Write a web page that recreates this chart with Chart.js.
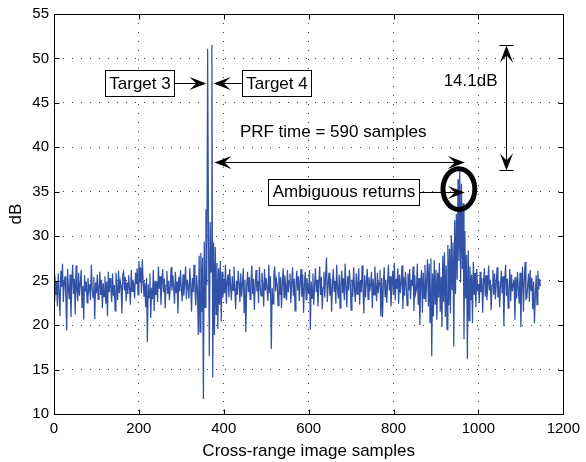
<!DOCTYPE html>
<html>
<head>
<meta charset="utf-8">
<script src="https://cdn.jsdelivr.net/npm/chart.js@4/dist/chart.umd.min.js"></script>
<style>
  html, body { margin: 0; padding: 0; background: #fff; }
  canvas { display: block; }
</style>
</head>
<body>
<canvas id="c" width="586" height="462"></canvas>
<script>
// Cross-range profile of the image (dB), sampled every 2 image samples.
const SAMPLE_STEP = 2;

const xTicks = [0, 200, 400, 600, 800, 1000, 1200];
const yTicks = [10, 15, 20, 25, 30, 35, 40, 45, 50, 55];

// Clutter floor before the targets (samples 0–338)
const noiseLeadStart = 0;
const noiseLead = [
  22.8, 25.6, 23.4, 24.9, 22.1, 25.8, 23.7, 21.0, 26.1, 24.3, 26.9, 22.6, 24.8, 25.5, 23.0, 19.4, 26.3, 24.1, 22.9, 25.7,
  20.9, 24.6, 26.8, 23.5, 25.2, 21.2, 26.7, 24.0, 22.7, 25.9, 23.3, 24.7, 26.2, 22.0, 24.4, 20.6, 25.6, 23.8, 24.9, 22.5,
  25.3, 23.9, 24.6, 22.8, 26.8, 24.2, 23.1, 25.4, 20.7, 24.8, 23.6, 25.7, 22.9, 24.1, 26.0, 23.4, 25.1, 21.9, 24.7, 23.2,
  25.5, 22.4, 24.9, 21.0, 26.0, 23.7, 25.3, 24.0, 22.6, 25.8, 23.3, 24.5, 21.6, 25.9, 24.2, 22.8, 26.1, 23.6, 25.0, 24.4,
  21.3, 25.7, 26.0, 23.9, 25.4, 22.7, 24.8, 23.5, 25.6, 24.1, 22.3, 26.2, 23.8, 25.1, 24.5, 23.0, 25.9, 24.6, 26.4, 23.4,
  27.2, 24.8, 26.5, 23.6, 27.4, 25.0, 23.2, 24.7, 22.0, 25.3, 18.1, 24.6, 23.1, 25.8, 20.8, 24.2, 22.9, 26.2, 21.6, 25.0,
  23.4, 24.9, 22.6, 26.6, 24.1, 25.5, 22.3, 24.8, 26.3, 23.7, 25.2, 21.9, 24.5, 26.1, 23.5, 25.0, 22.8, 24.4, 26.5, 23.9,
  25.6, 24.2, 22.4, 26.0, 23.6, 24.9, 21.3, 25.4, 23.8, 26.2, 24.0, 22.7, 25.7, 23.3, 24.6, 26.6, 22.9, 25.1, 24.3, 23.0,
  26.4, 24.5, 21.5, 25.3, 23.7, 26.8, 24.0, 22.2, 25.6, 23.9
];

// Targets 3 and 4 (samples 340–398)
const targetZoneStart = 340;
const targetZone = [
  18.9, 27.8, 19.2, 28.1, 21.5, 27.6, 11.7, 29.4, 22.0, 33.0,
  24.5, 51.1, 30.2, 16.5, 31.6, 26.0, 51.5, 14.1, 29.3, 18.9,
  28.8, 21.2, 27.0, 19.6, 26.4, 22.3, 27.2, 20.4, 26.0, 23.1
];

// Clutter floor between the targets and their ambiguous returns (samples 400–878)
const noiseMidStart = 400;
const noiseMid = [
  25.2, 23.6, 26.8, 22.4, 24.9, 25.7, 23.1, 26.3, 24.4, 22.8, 25.5, 23.9, 26.6, 24.2, 21.8, 25.0, 23.4, 26.1, 24.7, 22.6,
  25.8, 23.2, 24.6, 26.4, 21.4, 25.1, 19.2, 24.3, 26.0, 23.7, 25.4, 22.9, 24.8, 26.7, 23.5, 25.2, 21.7, 24.5, 26.2, 23.8,
  25.0, 22.5, 26.5, 24.1, 23.3, 25.9, 24.6, 22.1, 26.3, 23.9, 25.3, 24.0, 22.7, 26.8, 23.6, 25.5, 17.3, 24.2, 22.4, 25.7,
  26.6, 23.8, 25.1, 24.5, 22.2, 26.0, 23.4, 25.4, 21.9, 24.8, 26.4, 23.1, 25.6, 24.3, 22.8, 26.2, 23.7, 24.9, 25.8, 22.5,
  24.7, 26.5, 23.3, 25.2, 21.6, 24.4, 26.1, 23.9, 25.5, 22.7, 24.9, 26.3, 23.2, 25.7, 21.4, 24.6, 26.0, 22.9, 25.3, 24.1,
  23.5, 26.2, 19.5, 24.9, 23.0, 25.8, 22.3, 24.5, 26.4, 23.7, 25.1, 22.1, 24.8, 26.6, 23.4, 25.4, 21.8, 24.2, 26.0, 23.1,
  25.6, 27.6, 22.6, 24.7, 25.9, 23.3, 25.2, 21.5, 24.4, 26.3, 23.8, 25.0, 22.4, 26.8, 24.1, 23.0, 25.7, 21.9, 24.6, 26.1,
  23.6, 25.3, 22.8, 26.9, 24.3, 22.0, 25.5, 23.9, 26.2, 24.7, 21.7, 25.1, 23.2, 26.5, 24.0, 22.6, 25.8, 23.5, 24.8, 26.4,
  22.3, 25.0, 23.7, 26.7, 24.2, 21.3, 25.6, 23.1, 24.9, 26.3, 22.9, 25.4, 23.8, 24.5, 26.0, 21.9, 25.2, 23.4, 26.6, 24.4,
  22.7, 25.9, 23.6, 24.8, 26.2, 21.0, 25.3, 20.9, 24.6, 26.5, 23.2, 25.1, 22.5, 24.7, 26.8, 23.9, 25.5, 22.1, 24.3, 26.1,
  23.4, 27.0, 22.8, 25.2, 24.1, 26.4, 22.4, 25.7, 23.6, 24.9, 26.7, 21.8, 25.4, 23.3, 26.0, 24.5, 22.2, 25.8, 23.9, 26.3,
  22.9, 25.1, 24.4, 26.6, 21.6, 25.6, 23.5, 24.0, 26.9, 22.3, 25.3, 20.0, 24.8, 26.2, 21.4, 25.9, 23.0, 26.8, 22.6, 25.0
];

// Ambiguous returns one PRF later (samples 880–998)
const ambiguousZoneStart = 880;
const ambiguousZone = [
  27.4, 22.1, 26.9, 20.3, 27.5, 16.5, 25.8, 21.0, 27.3, 22.4,
  26.2, 20.6, 25.9, 23.1, 27.0, 21.5, 25.4, 19.8, 27.8, 22.6,
  28.2, 20.9, 26.7, 19.5, 29.0, 22.2, 28.6, 21.3, 30.1, 24.0,
  29.3, 17.6, 31.8, 23.5, 32.5, 25.1, 36.4, 27.2, 37.4, 24.8,
  35.9, 26.3, 33.7, 18.4, 30.6, 23.0, 27.9, 16.2, 28.4, 20.5,
  26.6, 22.8, 25.7, 20.2, 27.1, 23.4, 25.9, 22.0, 26.3, 23.8
];

// Clutter floor after the ambiguous returns (samples 1000–1146)
const noiseTailStart = 1000;
const noiseTail = [
  24.6, 22.5, 26.0, 23.7, 25.3, 21.4, 24.8, 26.4, 23.2, 25.6, 22.8, 24.3, 26.7, 23.9, 25.1, 21.7, 24.5, 26.2, 23.4, 25.8,
  22.9, 24.7, 26.5, 23.1, 25.0, 22.0, 24.4, 26.1, 23.6, 25.5, 19.9, 24.9, 26.8, 23.3, 25.2, 21.9, 24.1, 26.3, 22.7, 25.7,
  23.8, 24.6, 25.0, 20.6, 25.4, 23.0, 26.0, 24.2, 22.4, 25.9, 19.8, 24.8, 26.6, 21.5, 25.1, 27.1, 22.9, 23.0, 24.5, 25.8,
  22.6, 26.2, 23.9, 25.3, 21.8, 24.9, 20.2, 23.4, 25.6, 22.3, 26.1, 24.0, 25.2, 24.4
];

const PRF_SAMPLES = 590;

// ---------------------------------------------------------------------------
const segments = [
  [noiseLeadStart, noiseLead],
  [targetZoneStart, targetZone],
  [noiseMidStart, noiseMid],
  [ambiguousZoneStart, ambiguousZone],
  [noiseTailStart, noiseTail]
];
const profile = [];
segments.forEach(([start, values]) => {
  values.forEach((v, i) => profile.push({ x: start + i * SAMPLE_STEP, y: v }));
});

const FONT = '"Liberation Sans", Arial, Helvetica, sans-serif';
const targetPeak = Math.max(...targetZone);
const ambiguousPeak = Math.max(...ambiguousZone);

// Annotation anchors, in data units (samples, dB)
const notes = {
  labels: [
    { text: 'Target 3', at: [202, 47.2], tip: [359, 47.2] },
    { text: 'Target 4', at: [524, 47.2], tip: [376, 47.2] },
    { text: 'Ambiguous returns', at: [681, 35.0], tip: [968, 35.0] }
  ],
  prfText: [438, 41.7],
  prfArrow: { from: 378, y: 38.3 },
  ring: { center: [954, 35.3], rx: 37.5, ry: 2.3 },
  gapArrowX: 1064,
  gapText: [1045, 47.4]
};

function arrowHead(ctx, tx, ty, dx, dy) {
  const L = 17, W = 6.5, N = 10;
  const px = -dy, py = dx;
  ctx.beginPath();
  ctx.moveTo(tx, ty);
  ctx.lineTo(tx - L * dx + W * px, ty - L * dy + W * py);
  ctx.lineTo(tx - N * dx, ty - N * dy);
  ctx.lineTo(tx - L * dx - W * px, ty - L * dy - W * py);
  ctx.closePath();
  ctx.fill();
}

function arrow(ctx, x1, y1, x2, y2, headStart, headEnd) {
  const len = Math.hypot(x2 - x1, y2 - y1);
  const dx = (x2 - x1) / len, dy = (y2 - y1) / len;
  ctx.beginPath();
  ctx.moveTo(x1 + (headStart ? dx * 9 : 0), y1 + (headStart ? dy * 9 : 0));
  ctx.lineTo(x2 - (headEnd ? dx * 9 : 0), y2 - (headEnd ? dy * 9 : 0));
  ctx.stroke();
  if (headEnd) arrowHead(ctx, x2, y2, dx, dy);
  if (headStart) arrowHead(ctx, x1, y1, -dx, -dy);
}

// Axes box with inward tick marks on all four sides
const framePlugin = {
  id: 'frame',
  afterDatasetsDraw(chart) {
    const { ctx, chartArea: a, scales: { x, y } } = chart;
    const L = Math.round(a.left) + 0.5, R = Math.round(a.right) + 0.5;
    const T = Math.round(a.top) + 0.5, B = Math.round(a.bottom) + 0.5;
    const tick = 5;
    ctx.save();
    ctx.strokeStyle = '#000';
    ctx.lineWidth = 1;
    ctx.strokeRect(L, T, R - L, B - T);
    ctx.beginPath();
    xTicks.forEach(v => {
      const p = Math.round(x.getPixelForValue(v)) + 0.5;
      ctx.moveTo(p, B); ctx.lineTo(p, B - tick);
      ctx.moveTo(p, T); ctx.lineTo(p, T + tick);
    });
    yTicks.forEach(v => {
      const p = Math.round(y.getPixelForValue(v)) + 0.5;
      ctx.moveTo(L, p); ctx.lineTo(L + tick, p);
      ctx.moveTo(R, p); ctx.lineTo(R - tick, p);
    });
    ctx.stroke();
    ctx.restore();
  }
};

// Text boxes, arrows and the ring around the ambiguous returns
const notesPlugin = {
  id: 'notes',
  afterDraw(chart) {
    const { ctx, scales: { x, y } } = chart;
    const X = v => x.getPixelForValue(v);
    const Y = v => y.getPixelForValue(v);
    ctx.save();
    ctx.font = '17px ' + FONT;
    ctx.textBaseline = 'middle';
    ctx.strokeStyle = '#000';
    ctx.fillStyle = '#000';
    ctx.lineWidth = 1;

    // labelled boxes with arrows
    notes.labels.forEach(n => {
      const cx = X(n.at[0]), cy = Y(n.at[1]);
      const tw = ctx.measureText(n.text).width;
      const w = Math.round(tw + 8), h = 26;
      const bx = Math.round(cx - w / 2) + 0.5, by = Math.round(cy - h / 2) + 0.5;
      const tx = X(n.tip[0]), ty = Math.round(Y(n.tip[1])) + 0.5;
      const startX = tx > cx ? bx + w : bx;
      arrow(ctx, startX, ty, tx, ty, false, true);
      ctx.fillStyle = '#fff';
      ctx.fillRect(bx, by, w, h);
      ctx.strokeRect(bx, by, w, h);
      ctx.fillStyle = '#000';
      ctx.textAlign = 'center';
      ctx.fillText(n.text, bx + w / 2, cy + 1);
    });

    // PRF spacing
    ctx.textAlign = 'left';
    ctx.fillText('PRF time = ' + PRF_SAMPLES + ' samples', X(notes.prfText[0]), Y(notes.prfText[1]));
    const py = Math.round(Y(notes.prfArrow.y)) + 0.5;
    arrow(ctx, X(notes.prfArrow.from), py, X(notes.prfArrow.from + PRF_SAMPLES), py, true, true);

    // ring around the ambiguous returns
    const ex = X(notes.ring.center[0]), ey = Y(notes.ring.center[1]);
    const rx = X(notes.ring.center[0] + notes.ring.rx) - ex;
    const ry = ey - Y(notes.ring.center[1] + notes.ring.ry);
    ctx.lineWidth = 5;
    ctx.beginPath();
    ctx.ellipse(ex, ey, rx, ry, 0, 0, Math.PI * 2);
    ctx.stroke();
    ctx.lineWidth = 1;

    // level difference between target and ambiguous return
    const gx = Math.round(X(notes.gapArrowX)) + 0.5;
    const gTop = Math.round(Y(targetPeak)) + 0.5, gBot = Math.round(Y(ambiguousPeak)) + 0.5;
    arrow(ctx, gx, gTop, gx, gBot, true, true);
    ctx.beginPath();
    ctx.moveTo(gx - 7, gTop); ctx.lineTo(gx + 7, gTop);
    ctx.moveTo(gx - 7, gBot); ctx.lineTo(gx + 7, gBot);
    ctx.stroke();
    ctx.textAlign = 'right';
    ctx.fillText((targetPeak - ambiguousPeak).toFixed(1) + 'dB', X(notes.gapText[0]), Y(notes.gapText[1]));
    ctx.restore();
  }
};

const tickFont = { family: FONT, size: 15 };
const titleFont = { family: FONT, size: 17 };

new Chart(document.getElementById('c'), {
  type: 'line',
  data: {
    datasets: [{
      data: profile,
      borderColor: '#3152a6',
      borderWidth: 1.25,
      pointRadius: 0,
      tension: 0,
      fill: false
    }]
  },
  options: {
    responsive: false,
    animation: false,
    events: [],
    layout: { padding: { left: 0, right: 20, top: 12, bottom: 0 } },
    plugins: { legend: { display: false }, tooltip: { enabled: false } },
    scales: {
      x: {
        type: 'linear',
        min: 0, max: 1200,
        afterBuildTicks: s => { s.ticks = xTicks.map(v => ({ value: v })); },
        afterFit: s => { s.height = 48; },
        ticks: { font: tickFont, color: '#000', padding: 6, maxRotation: 0, autoSkip: false, callback: v => String(v) },
        grid: { drawTicks: false, color: 'rgba(0,0,0,0.75)', lineWidth: 1 },
        border: { display: false, dash: [1, 8] },
        title: { display: true, text: 'Cross-range image samples', font: titleFont, color: '#000', padding: { top: 0, bottom: 0 } }
      },
      y: {
        min: 10, max: 55,
        afterBuildTicks: s => { s.ticks = yTicks.map(v => ({ value: v })); },
        afterFit: s => { s.width = 54; },
        ticks: { font: tickFont, color: '#000', padding: 5, autoSkip: false, callback: v => String(v) },
        grid: { drawTicks: false, color: 'rgba(0,0,0,0.75)', lineWidth: 1 },
        border: { display: false, dash: [1, 8] },
        title: { display: true, text: 'dB', font: titleFont, color: '#000', padding: { top: 6, bottom: 0 } }
      }
    }
  },
  plugins: [framePlugin, notesPlugin]
});
</script>
</body>
</html>
